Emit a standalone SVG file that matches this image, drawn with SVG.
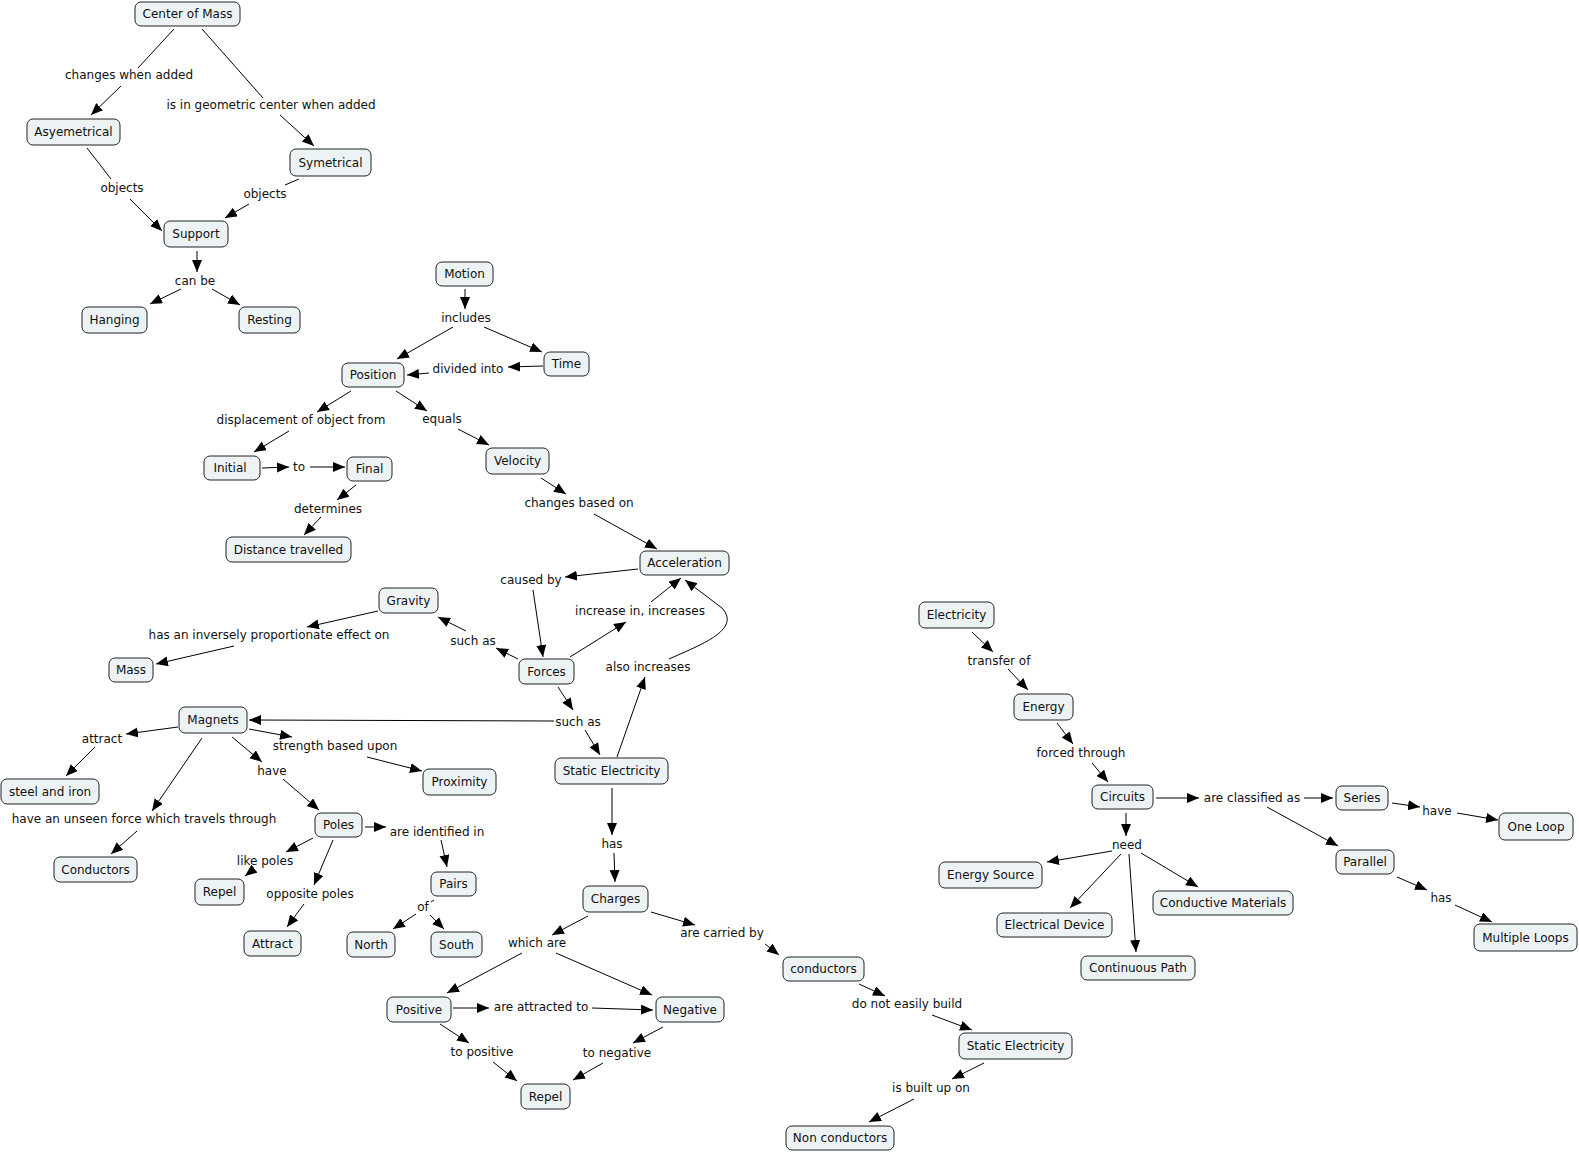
<svg xmlns="http://www.w3.org/2000/svg" width="1579" height="1152" viewBox="0 0 1579 1152">
<style>
.n rect{fill:#edf3f5;stroke:#222;stroke-width:1}
text{font-family:"DejaVu Sans",Verdana,sans-serif;font-size:12px;fill:#111;text-anchor:middle}
.c line,.c path{stroke:#000;stroke-width:1;fill:none}
.a{marker-end:url(#ah)}
</style>
<defs>
<marker id="ah" markerUnits="userSpaceOnUse" markerWidth="13" markerHeight="11" refX="12" refY="5" orient="auto">
<path d="M0,0 L12,5 L0,10 z" fill="#000"/>
</marker>
</defs>
<rect width="1579" height="1152" fill="#fff"/>
<g id="connectors" class="c">
<line x1="174" y1="29" x2="138" y2="68"/>
<line class="a" x1="121" y1="86" x2="91" y2="115"/>
<line x1="202" y1="29" x2="263" y2="98"/>
<line class="a" x1="280" y1="115" x2="314" y2="146"/>
<line x1="87" y1="148" x2="111" y2="179"/>
<line class="a" x1="130" y1="199" x2="162" y2="231"/>
<line x1="299" y1="179" x2="285" y2="185"/>
<line class="a" x1="249" y1="204" x2="225" y2="218"/>
<line class="a" x1="197" y1="251" x2="197" y2="272"/>
<line class="a" x1="181" y1="289" x2="150" y2="304"/>
<line class="a" x1="212" y1="289" x2="240" y2="305"/>
<line class="a" x1="465" y1="289" x2="465" y2="309"/>
<line class="a" x1="453" y1="327" x2="397" y2="359"/>
<line class="a" x1="484" y1="327" x2="542" y2="352"/>
<line class="a" x1="543" y1="366" x2="508" y2="367"/>
<line class="a" x1="429" y1="373" x2="407" y2="375"/>
<line class="a" x1="351" y1="391" x2="317" y2="412"/>
<line class="a" x1="289" y1="431" x2="254" y2="452"/>
<line class="a" x1="396" y1="391" x2="427" y2="411"/>
<line class="a" x1="458" y1="429" x2="489" y2="445"/>
<line class="a" x1="262" y1="468" x2="289" y2="467"/>
<line class="a" x1="310" y1="467" x2="345" y2="467"/>
<line class="a" x1="356" y1="485" x2="337" y2="500"/>
<line class="a" x1="321" y1="517" x2="304" y2="535"/>
<line class="a" x1="541" y1="478" x2="566" y2="494"/>
<line class="a" x1="594" y1="514" x2="657" y2="549"/>
<line class="a" x1="638" y1="569" x2="565" y2="577"/>
<line class="a" x1="533" y1="590" x2="543" y2="657"/>
<line class="a" x1="570" y1="657" x2="626" y2="622"/>
<line class="a" x1="651" y1="602" x2="681" y2="578"/>
<line class="a" x1="617" y1="757" x2="645" y2="677"/>
<path class="a" d="M669,659 C700,645 742,630 722,608 L685,580"/>
<line class="a" x1="558" y1="687" x2="573" y2="710"/>
<line class="a" x1="585" y1="730" x2="600" y2="755"/>
<line class="a" x1="518" y1="659" x2="496" y2="648"/>
<line class="a" x1="466" y1="631" x2="438" y2="617"/>
<line class="a" x1="378" y1="611" x2="307" y2="627"/>
<line class="a" x1="234" y1="646" x2="156" y2="664"/>
<line class="a" x1="554" y1="721" x2="249" y2="720"/>
<line class="a" x1="178" y1="727" x2="126" y2="734"/>
<line class="a" x1="95" y1="747" x2="66" y2="776"/>
<line class="a" x1="202" y1="738" x2="152" y2="811"/>
<line class="a" x1="137" y1="831" x2="111" y2="854"/>
<line class="a" x1="232" y1="737" x2="262" y2="762"/>
<line class="a" x1="283" y1="779" x2="319" y2="810"/>
<line class="a" x1="249" y1="729" x2="292" y2="737"/>
<line class="a" x1="367" y1="757" x2="422" y2="771"/>
<line class="a" x1="365" y1="827" x2="386" y2="827"/>
<line class="a" x1="441" y1="840" x2="447" y2="867"/>
<line class="a" x1="313" y1="838" x2="286" y2="852"/>
<line class="a" x1="254" y1="869" x2="245" y2="876"/>
<line class="a" x1="333" y1="840" x2="314" y2="885"/>
<line class="a" x1="304" y1="904" x2="287" y2="927"/>
<line x1="434" y1="900" x2="431" y2="902"/>
<line class="a" x1="416" y1="914" x2="393" y2="929"/>
<line class="a" x1="430" y1="915" x2="444" y2="929"/>
<line class="a" x1="612" y1="788" x2="612" y2="835"/>
<line class="a" x1="614" y1="853" x2="615" y2="882"/>
<line class="a" x1="588" y1="916" x2="552" y2="935"/>
<line class="a" x1="522" y1="953" x2="447" y2="993"/>
<line class="a" x1="556" y1="953" x2="652" y2="995"/>
<line class="a" x1="453" y1="1008" x2="489" y2="1008"/>
<line class="a" x1="592" y1="1008" x2="653" y2="1010"/>
<line class="a" x1="440" y1="1024" x2="469" y2="1043"/>
<line class="a" x1="493" y1="1062" x2="517" y2="1081"/>
<line class="a" x1="663" y1="1027" x2="633" y2="1043"/>
<line class="a" x1="603" y1="1063" x2="573" y2="1080"/>
<line class="a" x1="651" y1="912" x2="695" y2="925"/>
<line class="a" x1="765" y1="944" x2="779" y2="955"/>
<line class="a" x1="859" y1="984" x2="885" y2="996"/>
<line class="a" x1="932" y1="1015" x2="972" y2="1030"/>
<line class="a" x1="984" y1="1063" x2="952" y2="1079"/>
<line class="a" x1="914" y1="1099" x2="869" y2="1122"/>
<line class="a" x1="972" y1="632" x2="993" y2="652"/>
<line class="a" x1="1008" y1="669" x2="1028" y2="690"/>
<line class="a" x1="1057" y1="723" x2="1073" y2="744"/>
<line class="a" x1="1092" y1="763" x2="1108" y2="782"/>
<line class="a" x1="1156" y1="798" x2="1199" y2="798"/>
<line class="a" x1="1126" y1="813" x2="1126" y2="836"/>
<line class="a" x1="1112" y1="851" x2="1047" y2="862"/>
<line class="a" x1="1121" y1="854" x2="1070" y2="908"/>
<line class="a" x1="1129" y1="854" x2="1136" y2="952"/>
<line class="a" x1="1141" y1="853" x2="1198" y2="887"/>
<line class="a" x1="1304" y1="798" x2="1333" y2="798"/>
<line class="a" x1="1267" y1="807" x2="1338" y2="846"/>
<line class="a" x1="1392" y1="803" x2="1420" y2="807"/>
<line class="a" x1="1457" y1="813" x2="1498" y2="820"/>
<line class="a" x1="1397" y1="877" x2="1427" y2="890"/>
<line class="a" x1="1455" y1="905" x2="1492" y2="922"/>
</g>
<g id="labels">
<text x="129" y="79">changes when added</text>
<text x="271" y="109">is in geometric center when added</text>
<text x="122" y="192">objects</text>
<text x="265" y="198">objects</text>
<text x="195" y="285">can be</text>
<text x="466" y="322">includes</text>
<text x="468" y="373">divided into</text>
<text x="301" y="424">displacement of object from</text>
<text x="442" y="423">equals</text>
<text x="299" y="471">to</text>
<text x="328" y="513">determines</text>
<text x="579" y="507">changes based on</text>
<text x="531" y="584">caused by</text>
<text x="640" y="615">increase in, increases</text>
<text x="269" y="639">has an inversely proportionate effect on</text>
<text x="473" y="645">such as</text>
<text x="648" y="671">also increases</text>
<text x="578" y="726">such as</text>
<text x="102" y="743">attract</text>
<text x="335" y="750">strength based upon</text>
<text x="272" y="775">have</text>
<text x="144" y="823">have an unseen force which travels through</text>
<text x="437" y="836">are identified in</text>
<text x="265" y="865">like poles</text>
<text x="310" y="898">opposite poles</text>
<text x="423" y="911">of</text>
<text x="612" y="848">has</text>
<text x="537" y="947">which are</text>
<text x="722" y="937">are carried by</text>
<text x="541" y="1011">are attracted to</text>
<text x="482" y="1056">to positive</text>
<text x="617" y="1057">to negative</text>
<text x="907" y="1008">do not easily build</text>
<text x="931" y="1092">is built up on</text>
<text x="999" y="665">transfer of</text>
<text x="1081" y="757">forced through</text>
<text x="1252" y="802">are classified as</text>
<text x="1127" y="849">need</text>
<text x="1437" y="815">have</text>
<text x="1441" y="902">has</text>
</g>
<g id="n_com" class="n"><rect x="135" y="2" width="105" height="24" rx="6"/><text x="187.5" y="18">Center of Mass</text></g>
<g id="n_asy" class="n"><rect x="27" y="119" width="93" height="26" rx="6"/><text x="73.5" y="136">Asyemetrical</text></g>
<g id="n_sym" class="n"><rect x="290" y="149" width="81" height="27" rx="6"/><text x="330.5" y="166.5">Symetrical</text></g>
<g id="n_sup" class="n"><rect x="164" y="221" width="64" height="26" rx="6"/><text x="196" y="238">Support</text></g>
<g id="n_hang" class="n"><rect x="82" y="307" width="65" height="26" rx="6"/><text x="114.5" y="324">Hanging</text></g>
<g id="n_rest" class="n"><rect x="239" y="307" width="61" height="26" rx="6"/><text x="269.5" y="324">Resting</text></g>
<g id="n_motion" class="n"><rect x="436" y="262" width="57" height="24" rx="6"/><text x="464.5" y="278">Motion</text></g>
<g id="n_time" class="n"><rect x="544" y="352" width="45" height="24" rx="6"/><text x="566.5" y="368">Time</text></g>
<g id="n_pos" class="n"><rect x="342" y="363" width="62" height="24" rx="6"/><text x="373" y="379">Position</text></g>
<g id="n_init" class="n"><rect x="204" y="456" width="56" height="24" rx="6"/><text x="230" y="472">Initial</text></g>
<g id="n_final" class="n"><rect x="347" y="457" width="45" height="24" rx="6"/><text x="369.5" y="473">Final</text></g>
<g id="n_vel" class="n"><rect x="486" y="448" width="63" height="26" rx="6"/><text x="517.5" y="465">Velocity</text></g>
<g id="n_dist" class="n"><rect x="226" y="537" width="125" height="25" rx="6"/><text x="288.5" y="553.5">Distance travelled</text></g>
<g id="n_acc" class="n"><rect x="640" y="551" width="89" height="24" rx="6"/><text x="684.5" y="567">Acceleration</text></g>
<g id="n_grav" class="n"><rect x="379" y="588" width="59" height="25" rx="6"/><text x="408.5" y="604.5">Gravity</text></g>
<g id="n_mass" class="n"><rect x="109" y="658" width="44" height="24" rx="6"/><text x="131" y="674">Mass</text></g>
<g id="n_forces" class="n"><rect x="519" y="659" width="55" height="25" rx="6"/><text x="546.5" y="675.5">Forces</text></g>
<g id="n_mag" class="n"><rect x="179" y="707" width="68" height="26" rx="6"/><text x="213" y="724">Magnets</text></g>
<g id="n_steel" class="n"><rect x="1" y="779" width="98" height="25" rx="6"/><text x="50" y="795.5">steel and iron</text></g>
<g id="n_prox" class="n"><rect x="423" y="769" width="73" height="26" rx="6"/><text x="459.5" y="786">Proximity</text></g>
<g id="n_static" class="n"><rect x="555" y="758" width="113" height="26" rx="6"/><text x="611.5" y="775">Static Electricity</text></g>
<g id="n_cond" class="n"><rect x="54" y="857" width="83" height="25" rx="6"/><text x="95.5" y="873.5">Conductors</text></g>
<g id="n_poles" class="n"><rect x="315" y="813" width="47" height="24" rx="6"/><text x="338.5" y="829">Poles</text></g>
<g id="n_repel1" class="n"><rect x="195" y="879" width="49" height="26" rx="6"/><text x="219.5" y="896">Repel</text></g>
<g id="n_pairs" class="n"><rect x="431" y="872" width="45" height="24" rx="6"/><text x="453.5" y="888">Pairs</text></g>
<g id="n_attract" class="n"><rect x="244" y="931" width="57" height="25" rx="6"/><text x="272.5" y="947.5">Attract</text></g>
<g id="n_north" class="n"><rect x="347" y="932" width="48" height="25" rx="6"/><text x="371" y="948.5">North</text></g>
<g id="n_south" class="n"><rect x="431" y="932" width="51" height="25" rx="6"/><text x="456.5" y="948.5">South</text></g>
<g id="n_charges" class="n"><rect x="583" y="886" width="65" height="26" rx="6"/><text x="615.5" y="903">Charges</text></g>
<g id="n_positive" class="n"><rect x="387" y="997" width="64" height="25" rx="6"/><text x="419" y="1013.5">Positive</text></g>
<g id="n_negative" class="n"><rect x="656" y="997" width="68" height="25" rx="6"/><text x="690" y="1013.5">Negative</text></g>
<g id="n_repel2" class="n"><rect x="521" y="1084" width="49" height="25" rx="6"/><text x="545.5" y="1100.5">Repel</text></g>
<g id="n_conductors" class="n"><rect x="783" y="957" width="81" height="24" rx="6"/><text x="823.5" y="973">conductors</text></g>
<g id="n_static2" class="n"><rect x="959" y="1033" width="113" height="26" rx="6"/><text x="1015.5" y="1050">Static Electricity</text></g>
<g id="n_noncond" class="n"><rect x="786" y="1126" width="108" height="24" rx="6"/><text x="840" y="1142">Non conductors</text></g>
<g id="n_elec" class="n"><rect x="919" y="602" width="75" height="26" rx="6"/><text x="956.5" y="619">Electricity</text></g>
<g id="n_energy" class="n"><rect x="1014" y="694" width="59" height="26" rx="6"/><text x="1043.5" y="711">Energy</text></g>
<g id="n_circ" class="n"><rect x="1092" y="785" width="61" height="24" rx="6"/><text x="1122.5" y="801">Circuits</text></g>
<g id="n_esrc" class="n"><rect x="939" y="862" width="103" height="26" rx="6"/><text x="990.5" y="879">Energy Source</text></g>
<g id="n_edev" class="n"><rect x="997" y="913" width="115" height="24" rx="6"/><text x="1054.5" y="929">Electrical Device</text></g>
<g id="n_cmat" class="n"><rect x="1153" y="891" width="140" height="24" rx="6"/><text x="1223" y="907">Conductive Materials</text></g>
<g id="n_cpath" class="n"><rect x="1081" y="956" width="114" height="24" rx="6"/><text x="1138" y="972">Continuous Path</text></g>
<g id="n_series" class="n"><rect x="1336" y="786" width="52" height="24" rx="6"/><text x="1362" y="802">Series</text></g>
<g id="n_oneloop" class="n"><rect x="1499" y="813" width="74" height="27" rx="6"/><text x="1536" y="830.5">One Loop</text></g>
<g id="n_parallel" class="n"><rect x="1336" y="850" width="58" height="24" rx="6"/><text x="1365" y="866">Parallel</text></g>
<g id="n_multi" class="n"><rect x="1474" y="924" width="103" height="27" rx="6"/><text x="1525.5" y="941.5">Multiple Loops</text></g>
</svg>
